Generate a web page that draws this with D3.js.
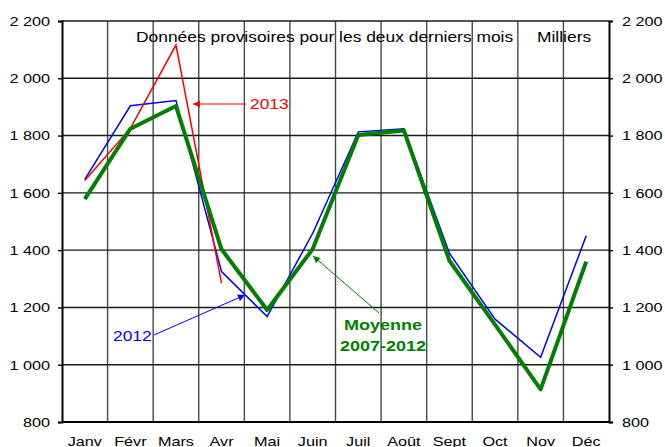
<!DOCTYPE html>
<meta charset="utf-8">
<style>
  body { margin: 0; background: #fff; }
  text { font-family: "Liberation Sans", Arial, sans-serif; }
</style>
<svg id="chart" width="665" height="447"></svg>
<script src="https://d3js.org/d3.v7.min.js"></script>
<script>
var months = ["Janv", "Févr", "Mars", "Avr", "Mai", "Juin", "Juil", "Août", "Sept", "Oct", "Nov", "Déc"];
var yTicks = [800, 1000, 1200, 1400, 1600, 1800, 2000, 2200];
var serie2012 = [1647, 1904, 1922, 1325, 1168, 1459, 1813, 1824, 1389, 1159, 1026, 1450];
var serie2013 = [1643, 1825, 2116, 1284];
var moyenne = [1578, 1824, 1903, 1403, 1191, 1404, 1802, 1818, 1363, 1140, 914, 1360];

var svg = d3.select("#chart"),
    margin = {top: 21, right: 56, bottom: 25, left: 62},
    width = +svg.attr("width") - margin.left - margin.right,
    height = +svg.attr("height") - margin.top - margin.bottom,
    g = svg.append("g").attr("transform", "translate(" + margin.left + "," + margin.top + ")");

var x = d3.scaleBand().domain(months).range([0, width]);
var y = d3.scaleLinear().domain([800, 2200]).range([height, 0]);
var fmt = function(v) { return d3.format(",")(v).replace(",", " "); };

// grid
g.selectAll(".vgrid").data(months.slice(1)).enter().append("line")
    .attr("x1", function(d) { return x(d); }).attr("x2", function(d) { return x(d); })
    .attr("y1", 0).attr("y2", height)
    .attr("stroke", "#484848").attr("stroke-width", 1.4);
g.selectAll(".hgrid").data(yTicks).enter().append("line")
    .attr("x1", 0).attr("x2", width)
    .attr("y1", function(d) { return y(d); }).attr("y2", function(d) { return y(d); })
    .attr("stroke", function(d) { return d == 800 ? "#000" : "#1a1a1a"; })
    .attr("stroke-width", function(d) { return d == 800 ? 2 : 1.4; });

// axes
var left = g.append("g").call(d3.axisLeft(y).tickValues(yTicks).tickSize(4).tickPadding(8).tickFormat(fmt));
var right = g.append("g").attr("transform", "translate(" + width + ",0)")
    .call(d3.axisRight(y).tickValues(yTicks).tickSize(4).tickPadding(9).tickFormat(fmt));
[left, right].forEach(function(a) {
  a.select(".domain").attr("stroke", "#000").attr("stroke-width", 2);
  a.selectAll(".tick line").attr("stroke", "#000").attr("stroke-width", 1.4);
  a.selectAll(".tick text").attr("font-size", "13.5px").attr("font-family", "Liberation Sans, Arial, sans-serif").attr("fill", "#000");
  a.attr("font-size", null).attr("font-family", null);
});

g.selectAll(".month").data(months).enter().append("text")
    .attr("x", function(d) { return x(d) + x.bandwidth() / 2; })
    .attr("y", height + 24)
    .attr("text-anchor", "middle")
    .attr("font-size", "13.5px")
    .text(function(d) { return d; });

var line = d3.line()
    .x(function(d, i) { return x(months[i]) + x.bandwidth() / 2; })
    .y(function(d) { return y(d); });

g.append("path").datum(serie2012).attr("d", line)
    .attr("fill", "none").attr("stroke", "#0000ff").attr("stroke-width", 1.5);
g.append("path").datum(serie2013).attr("d", line)
    .attr("fill", "none").attr("stroke", "#ff0000").attr("stroke-width", 1.5);
g.append("path").datum(moyenne).attr("d", line)
    .attr("fill", "none").attr("stroke", "#007f00").attr("stroke-width", 4).attr("stroke-linejoin", "round");

// arrow markers
var defs = svg.append("defs");
[["arRed", "#ff0000"], ["arBlue", "#0000ff"], ["arGreen", "#007f00"]].forEach(function(m) {
  defs.append("marker").attr("id", m[0]).attr("viewBox", "0 0 10 10")
      .attr("refX", 10).attr("refY", 5).attr("markerWidth", 9).attr("markerHeight", 7)
      .attr("markerUnits", "userSpaceOnUse").attr("orient", "auto")
      .append("path").attr("d", "M0,0L10,5L0,10Z").attr("fill", m[1]);
});

// annotations
svg.append("text").attr("x", 136).attr("y", 42).attr("font-size", "14.5px").attr("fill", "#000")
    .text("Données provisoires pour les deux derniers mois");
svg.append("text").attr("x", 537).attr("y", 42).attr("font-size", "14.5px").attr("fill", "#000")
    .text("Milliers");

svg.append("line").attr("x1", 246).attr("y1", 104).attr("x2", 193).attr("y2", 104)
    .attr("stroke", "#ff0000").attr("stroke-width", 1).attr("marker-end", "url(#arRed)");
svg.append("text").attr("x", 250).attr("y", 109).attr("font-size", "14.5px").attr("fill", "#ff0000").text("2013");

svg.append("line").attr("x1", 154).attr("y1", 335).attr("x2", 245).attr("y2", 295)
    .attr("stroke", "#0000ff").attr("stroke-width", 1).attr("marker-end", "url(#arBlue)");
svg.append("text").attr("x", 113).attr("y", 341).attr("font-size", "14.5px").attr("fill", "#0000ff").text("2012");

svg.append("line").attr("x1", 379).attr("y1", 313).attr("x2", 313).attr("y2", 256)
    .attr("stroke", "#007f00").attr("stroke-width", 1).attr("marker-end", "url(#arGreen)");
var moy = svg.append("text").attr("text-anchor", "middle").attr("font-size", "15px")
    .attr("font-weight", "bold").attr("fill", "#007f00");
moy.append("tspan").attr("x", 383).attr("y", 330).text("Moyenne");
moy.append("tspan").attr("x", 383).attr("y", 351).text("2007-2012");

// the original's lettering is about 20% wider than Arial
svg.selectAll("text").each(function() {
  var t = d3.select(this);
  var parts = t.selectAll("tspan");
  (parts.empty() ? t : parts).each(function() {
    var w = this.getComputedTextLength();
    d3.select(this).attr("textLength", w * 1.2).attr("lengthAdjust", "spacingAndGlyphs");
  });
});
</script>
